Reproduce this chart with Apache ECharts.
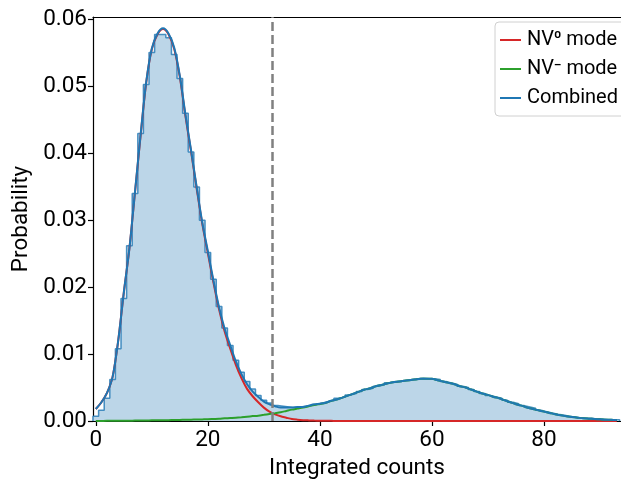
<!DOCTYPE html>
<html>
<head>
<meta charset="utf-8">
<script src="https://cdn.jsdelivr.net/npm/echarts@6/dist/echarts.min.js"></script>
<style>
html,body{margin:0;padding:0;background:#fff;}
#chart{width:621px;height:485px;}
</style>
</head>
<body>
<div id="chart"></div>
<script>
// ---- data ----
// histogram bins: centre values 0..93, width 1
const binCenters = [];
for (let k = 0; k <= 93; k++) binCenters.push(k);
const histValues = [
 0.0007,0.0016,0.0034,0.0062,0.0108,0.0183,0.0262,0.0340,0.0430,0.0503,
 0.0551,0.0578,0.0578,0.0573,0.0548,0.0512,0.0460,0.0402,0.0350,0.0300,
 0.0252,0.0212,0.0171,0.0139,0.0113,0.0091,0.0073,0.0059,0.0048,0.0038,
 0.0031,0.0027,0.0023,0.0022,0.0021,0.0020,0.0021,0.0022,0.0023,0.0025,
 0.0027,0.0029,0.0031,0.0034,0.0036,0.0039,0.0041,0.0044,0.0047,0.0049,
 0.0052,0.0054,0.0057,0.0058,0.0059,0.0061,0.0062,0.0063,0.0064,0.0063,
 0.0063,0.0062,0.0059,0.0057,0.0055,0.0052,0.0050,0.0047,0.0044,0.0041,
 0.0038,0.0036,0.0034,0.0031,0.0028,0.0026,0.0023,0.0021,0.0019,0.0016,
 0.0014,0.0012,0.0010,0.0009,0.0007,0.0006,0.0005,0.0004,0.0004,0.0003,
 0.0003,0.0002,0.0002,0.0002
];
// model curves sampled at x = 0..93
const curveX = binCenters;
const nv0Values = [
 0.0018,0.0028,0.0042,0.0066,0.0120,0.0192,0.0258,0.0342,0.0427,0.0506,
 0.0556,0.0578,0.0586,0.0578,0.0556,0.0514,0.0456,0.0403,0.0348,0.0295,
 0.0251,0.0207,0.0167,0.0134,0.0108,0.0084,0.0064,0.0048,0.0037,0.0028,
 0.0020,0.0014,0.0010,0.0007,0.0005,0.0003,0.0002,0.00013,0.00009,0.00006,
 0.00004,0.00003,0.00002,0.00001,0,0,0,0,0,0,
 0,0,0,0,0,0,0,0,0,0,0,0,0,0,0,0,0,0,0,0,
 0,0,0,0,0,0,0,0,0,0,0,0,0,0,0,0,0,0,0,0,
 0,0,0,0
];
const nvmValues = [
 0.00000,0.00001,0.00002,0.00002,0.00003,0.00004,0.00005,0.00006,0.00007,0.00008,
 0.00010,0.00011,0.00012,0.00013,0.00015,0.00016,0.00018,0.00020,0.00022,0.00024,
 0.00026,0.00030,0.00034,0.00040,0.00045,0.00050,0.00057,0.00065,0.00073,0.00080,
 0.00092,0.00105,0.00117,0.00130,0.00150,0.00170,0.00185,0.00200,0.00220,0.00240,
 0.00255,0.00270,0.00300,0.00320,0.00350,0.00380,0.00410,0.00440,0.00470,0.00490,
 0.00520,0.00540,0.00560,0.00580,0.00590,0.00600,0.00610,0.00620,0.00630,0.00630,
 0.00630,0.00610,0.00590,0.00570,0.00550,0.00520,0.00500,0.00470,0.00440,0.00410,
 0.00390,0.00360,0.00340,0.00310,0.00280,0.00250,0.00230,0.00200,0.00180,0.00160,
 0.00140,0.00120,0.00100,0.00084,0.00070,0.00060,0.00050,0.00040,0.00035,0.00030,
 0.00025,0.00020,0.00018,0.00015
];
const combinedValues = [
 0.0018,0.0028,0.0042,0.0066,0.0120,0.0192,0.0258,0.0343,0.0428,0.0507,
 0.0557,0.0579,0.0587,0.0579,0.0558,0.0516,0.0458,0.0405,0.0350,0.0297,
 0.0254,0.0210,0.0170,0.0138,0.0113,0.0089,0.0070,0.0055,0.0044,0.0036,
 0.0029,0.0025,0.0022,0.0020,0.0020,0.0020,0.0021,0.0021,0.0023,0.0025,
 0.00259,0.00273,0.00302,0.00321,0.00350,0.00380,0.00410,0.00440,0.00470,0.00490,
 0.00520,0.00540,0.00560,0.00580,0.00590,0.00600,0.00610,0.00620,0.00630,0.00630,
 0.00630,0.00610,0.00590,0.00570,0.00550,0.00520,0.00500,0.00470,0.00440,0.00410,
 0.00390,0.00360,0.00340,0.00310,0.00280,0.00250,0.00230,0.00200,0.00180,0.00160,
 0.00140,0.00120,0.00100,0.00084,0.00070,0.00060,0.00050,0.00040,0.00035,0.00030,
 0.00025,0.00020,0.00018,0.00015
];
const thresholdX = 31.5;
const xTicks = [0, 20, 40, 60, 80];
const yTicks = [0, 0.01, 0.02, 0.03, 0.04, 0.05, 0.06];
const seriesNames = ['NV\u2070 mode', 'NV\u207B mode', 'Combined'];

// ---- build ----
const X_MIN = -0.5, X_MAX = 93.75, Y_MIN = 0, Y_MAX = 0.0604;
const FONT = 'Roboto';

// step outline points using left bin edges (step: 'end')
const histPts = [[binCenters[0] - 0.5, 0]];
binCenters.forEach((c, i) => histPts.push([c - 0.5, histValues[i]]));
histPts.push([binCenters[binCenters.length - 1] + 0.5, histValues[histValues.length - 1]]);
histPts.push([binCenters[binCenters.length - 1] + 0.5, 0]);

const zip = (xs, ys) => xs.map((x, i) => [x, ys[i]]);

const chart = echarts.init(document.getElementById('chart'), null, {renderer: 'canvas'});
const axisCommon = {
  type: 'value', min: X_MIN, max: X_MAX,
  splitLine: {show: false},
};
chart.setOption({
  animation: false,
  backgroundColor: '#fff',
  textStyle: {fontFamily: FONT},
  grid: {left: 93, right: 0, top: 17, bottom: 61, containLabel: false},
  legend: {
    orient: 'vertical', left: 495, top: 22,
    data: seriesNames,
    icon: 'rect', itemWidth: 21, itemHeight: 2, itemGap: 9,
    padding: [8, 12, 8, 5],
    backgroundColor: '#fff', borderColor: '#d0d0d0', borderWidth: 1, borderRadius: 4,
    textStyle: {fontFamily: FONT, fontSize: 20, color: '#000', padding: [0, 0, 0, 1]}
  },
  xAxis: [{
    ...axisCommon,
    name: 'Integrated counts', nameLocation: 'middle', nameGap: 36, nameMoveOverlap: false,
    nameTextStyle: {fontFamily: FONT, fontSize: 22.5, color: '#000'},
    axisLine: {show: true, onZero: false, lineStyle: {color: '#000', width: 1.2}},
    axisTick: {show: true, inside: false, length: 5, customValues: xTicks, lineStyle: {color: '#000', width: 1.2}},
    axisLabel: {customValues: xTicks, fontFamily: FONT, fontSize: 22.5, color: '#000', margin: 8},
  }, {
    ...axisCommon, position: 'top',
    axisLine: {show: true, onZero: false, lineStyle: {color: '#000', width: 1.2}},
    axisTick: {show: false}, axisLabel: {show: false}
  }],
  yAxis: [{
    type: 'value', min: Y_MIN, max: Y_MAX,
    splitLine: {show: false},
    name: 'Probability', nameLocation: 'middle', nameGap: 60, nameMoveOverlap: false,
    nameTextStyle: {fontFamily: FONT, fontSize: 22.5, color: '#000'},
    axisLine: {show: true, onZero: false, lineStyle: {color: '#000', width: 1.2}},
    axisTick: {show: true, inside: false, length: 5, customValues: yTicks, lineStyle: {color: '#000', width: 1.2}},
    axisLabel: {customValues: yTicks, fontFamily: FONT, fontSize: 22.5, color: '#000', margin: 6,
      formatter: v => v.toFixed(2)},
  }],
  series: [
    {
      type: 'line', name: 'hist', data: histPts, step: 'end',
      symbol: 'none', silent: true, z: 1,
      lineStyle: {color: 'rgba(31,119,180,0.8)', width: 1.5},
      areaStyle: {color: 'rgb(188,214,232)', opacity: 1},
    },
    {
      type: 'line', name: seriesNames[0], data: zip(curveX, nv0Values),
      symbol: 'none', smooth: 0.3, z: 2,
      lineStyle: {color: '#d62728', width: 2}, itemStyle: {color: '#d62728'}
    },
    {
      type: 'line', name: seriesNames[1], data: zip(curveX, nvmValues),
      symbol: 'none', smooth: 0.3, z: 3,
      lineStyle: {color: '#2ca02c', width: 2}, itemStyle: {color: '#2ca02c'}
    },
    {
      type: 'line', name: seriesNames[2], data: zip(curveX, combinedValues),
      symbol: 'none', smooth: 0.3, z: 4,
      lineStyle: {color: '#1f77b4', width: 2}, itemStyle: {color: '#1f77b4'},
      markLine: {
        silent: true, symbol: 'none', label: {show: false},
        lineStyle: {color: '#808080', type: [9, 4], width: 2.5},
        data: [{xAxis: thresholdX}]
      }
    }
  ]
});
</script>
</body>
</html>
